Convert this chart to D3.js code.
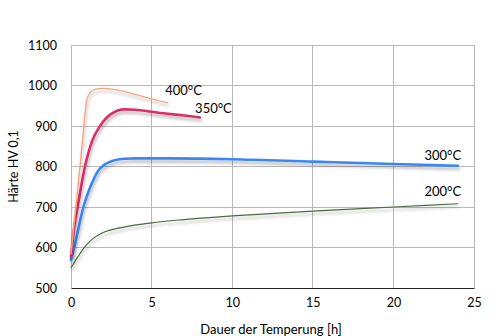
<!DOCTYPE html>
<html><head><meta charset="utf-8">
<script src="https://cdn.jsdelivr.net/npm/d3@7"></script>
<style>body{margin:0;background:#fff}svg{display:block}text{font-family:Lato,"Open Sans",sans-serif;fill:#000}</style>
</head><body><svg id="c" width="500" height="336"></svg>
<script>
const xTicks = [0,5,10,15,20,25];
const yTicks = [500,600,700,800,900,1000,1100];
const s400 = [[0,585],[0.3,700],[0.56,800],[0.8,900],[0.97,962],[1.2,983],[1.5,991],[2,993],[3,988],[4,978],[5,967],[6,957]];
const s350 = [[0,577],[0.2,650],[0.41,700],[0.87,800],[1.3,862],[1.8,900],[2.5,930],[3.3,941],[4,940],[5,935],[6,930],[7,926],[8,921]];
const s300 = [[0,570],[0.2,600],[0.77,700],[1.1,740],[1.39,767],[1.7,790],[2.1,805],[2.6,814],[3.35,819],[4,820],[6,820],[10,818],[15,812],[20,806],[24,802]];
const s200 = [[0,550],[0.4,575],[0.87,602],[1.3,620],[1.9,635],[3.35,651],[5,661],[7,669],[10,678],[15,690],[20,700],[24,708]];
const series = [
  {name:"200°C", data:s200, color:"#4b6b3c", w:1.2},
  {name:"300°C", data:s300, color:"#3a86f5", w:2.6},
  {name:"350°C", data:s350, color:"#dc2f67", w:2.6},
  {name:"400°C", data:s400, color:"#f9a57c", w:1.4}
];
const labels = [
  {text:"400°C", t:5.84, v:977, anchor:"start"},
  {text:"350°C", t:7.7, v:932, anchor:"start"},
  {text:"300°C", t:24.2, v:817, anchor:"end"},
  {text:"200°C", t:24.2, v:727, anchor:"end"}
];
const svg = d3.select("#c");
const x = d3.scaleLinear().domain([0,25]).range([71,474]);
const y = d3.scaleLinear().domain([500,1100]).range([288,45]);
const defs = svg.append("defs");
const f = defs.append("filter").attr("id","sh").attr("x","-10%").attr("y","-10%").attr("width","130%").attr("height","140%");
f.append("feDropShadow").attr("dx",1).attr("dy",3).attr("stdDeviation",1.6).attr("flood-color","#000").attr("flood-opacity",0.28);
// grid
svg.append("g").selectAll("line").data(yTicks.slice(1)).join("line")
  .attr("x1",x(0)).attr("x2",x(25)).attr("y1",d=>y(d)).attr("y2",d=>y(d))
  .attr("stroke","#b8b8b8").attr("stroke-width",1).attr("shape-rendering","crispEdges");
svg.append("g").selectAll("line").data(xTicks).join("line")
  .attr("x1",d=>x(d)).attr("x2",d=>x(d)).attr("y1",y(500)).attr("y2",y(1100))
  .attr("stroke","#b8b8b8").attr("stroke-width",1).attr("shape-rendering","crispEdges");
// bottom axis
const xa = svg.append("g").attr("transform",`translate(0,${y(500)})`)
  .call(d3.axisBottom(x).tickValues(xTicks).tickSize(0).tickPadding(10).tickFormat(d3.format("d")));
xa.select(".domain").attr("stroke","#222").attr("stroke-width",1.2);
xa.selectAll("text").attr("font-size",12.5).style("font-family","Lato");
const ya = svg.append("g").attr("transform",`translate(${x(0)},0)`)
  .call(d3.axisLeft(y).tickValues(yTicks).tickSize(0).tickPadding(14).tickFormat(d3.format("d")));
ya.select(".domain").remove();
ya.selectAll("text").attr("font-size",12.5).style("font-family","Lato");
// lines
const line = d3.line().x(d=>x(d[0])).y(d=>y(d[1])).curve(d3.curveMonotoneX);
svg.append("g").selectAll("path").data(series).join("path")
  .attr("d",d=>line(d.data)).attr("fill","none").attr("stroke",d=>d.color)
  .attr("stroke-width",d=>d.w).attr("stroke-linecap","round").attr("filter","url(#sh)");
svg.append("g").selectAll("text").data(labels).join("text")
  .attr("x",d=>x(d.t)).attr("y",d=>y(d.v)).attr("text-anchor",d=>d.anchor)
  .attr("font-size",13).text(d=>d.text);
svg.append("text").attr("x",271).attr("y",334).attr("text-anchor","middle").attr("font-size",13).text("Dauer der Temperung [h]");
svg.append("text").attr("transform",`translate(18,${(y(500)+y(1100))/2}) rotate(-90)`).attr("text-anchor","middle").attr("font-size",12.5).text("Härte HV 0,1");
</script></body></html>
